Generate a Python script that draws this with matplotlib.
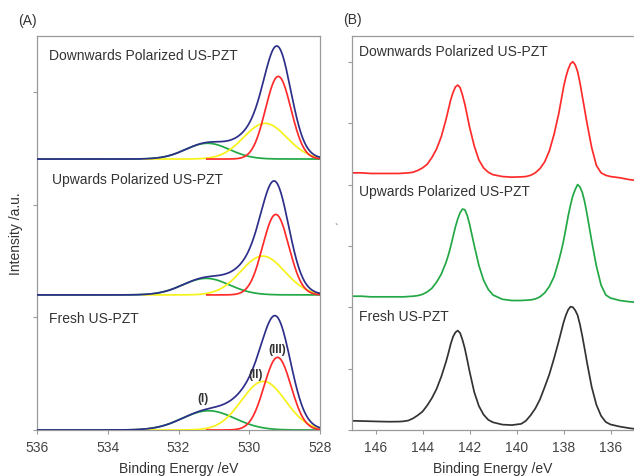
import matplotlib
matplotlib.use("Agg")
import matplotlib.pyplot as plt
import numpy as np

plt.rcParams['font.family'] = ['Liberation Sans', 'DejaVu Sans']

# ---------------- Panel A: O 1s fitted components ----------------
o1s_labels = ["Downwards Polarized US-PZT", "Upwards Polarized US-PZT", "Fresh US-PZT"]
o1s_offsets = [2.407, 1.20, 0.0]
# component (I)  - green
comp1_center = [531.18, 531.22, 531.15]
comp1_height = [0.140, 0.147, 0.171]
comp1_sigma = [0.62, 0.66, 0.74]
# component (II) - yellow
comp2_center = [529.55, 529.62, 529.60]
comp2_height = [0.317, 0.345, 0.432]
comp2_sigma = [0.61, 0.62, 0.62]
# component (III) - red
comp3_center = [529.18, 529.25, 529.20]
comp3_height = [0.734, 0.715, 0.645]
comp3_sigma = [0.36, 0.37, 0.38]
comp2_start = 533.0
comp3_start = 531.2
peak_names = ["(I)", "(II)", "(III)"]
peak_name_x = [531.30, 529.81, 529.20]
peak_name_y = [0.28, 0.50, 0.72]

# ---------------- Panel B: Pb 4f spectra ----------------
energy_b = [147.0, 146.6, 146.2, 145.8, 145.4, 145.0, 144.8, 144.6, 144.4, 144.2,
            144.0, 143.8, 143.6, 143.4, 143.2, 143.0, 142.9, 142.8, 142.7, 142.6,
            142.5, 142.4, 142.3, 142.2, 142.1, 142.0, 141.8, 141.6, 141.4, 141.2,
            141.0, 140.6, 140.2, 139.8, 139.6, 139.4, 139.2, 139.0, 138.8, 138.6,
            138.4, 138.2, 138.1, 138.0, 137.9, 137.8, 137.7, 137.6, 137.5, 137.4,
            137.3, 137.2, 137.1, 137.0, 136.8, 136.6, 136.4, 136.2, 136.0, 135.6,
            135.2, 135.0]
pb_down = [4.19, 4.19, 4.18, 4.18, 4.18, 4.18, 4.185, 4.19, 4.20, 4.23,
           4.27, 4.33, 4.44, 4.58, 4.78, 5.06, 5.22, 5.38, 5.50, 5.59,
           5.62, 5.58, 5.46, 5.31, 5.13, 4.94, 4.63, 4.40, 4.27, 4.20,
           4.16, 4.13, 4.12, 4.125, 4.13, 4.15, 4.19, 4.26, 4.37, 4.55,
           4.82, 5.16, 5.37, 5.58, 5.75, 5.88, 5.97, 6.00, 5.95, 5.84,
           5.66, 5.44, 5.22, 5.00, 4.60, 4.31, 4.19, 4.15, 4.13, 4.11,
           4.08, 4.07]
pb_up = [2.18, 2.18, 2.17, 2.17, 2.17, 2.17, 2.17, 2.175, 2.18, 2.19,
         2.21, 2.25, 2.31, 2.41, 2.54, 2.73, 2.85, 2.99, 3.15, 3.31,
         3.44, 3.54, 3.60, 3.59, 3.50, 3.36, 3.01, 2.68, 2.44, 2.29,
         2.20, 2.13, 2.11, 2.11, 2.115, 2.12, 2.135, 2.17, 2.235, 2.34,
         2.50, 2.76, 2.91, 3.08, 3.28, 3.49, 3.67, 3.82, 3.92, 4.00,
         3.96, 3.87, 3.72, 3.52, 3.08, 2.67, 2.36, 2.20, 2.15, 2.11,
         2.09, 2.085]
pb_fresh = [0.150, 0.146, 0.142, 0.138, 0.135, 0.137, 0.142, 0.155, 0.19, 0.24,
            0.30, 0.40, 0.52, 0.67, 0.87, 1.11, 1.25, 1.40, 1.52, 1.59,
            1.62, 1.58, 1.47, 1.33, 1.15, 0.96, 0.62, 0.39, 0.25, 0.165,
            0.125, 0.088, 0.080, 0.10, 0.15, 0.24, 0.35, 0.50, 0.70, 0.91,
            1.17, 1.45, 1.60, 1.75, 1.87, 1.96, 2.01, 2.00, 1.95, 1.87,
            1.72, 1.53, 1.32, 1.10, 0.70, 0.41, 0.23, 0.13, 0.09, 0.055,
            0.03, 0.02]
pb_labels = ["Downwards Polarized US-PZT", "Upwards Polarized US-PZT", "Fresh US-PZT"]
pb_label_y = [6.18, 3.89, 1.85]

# ---------------- styling ----------------
C_BLUE = "#2e2f8a"
C_RED = "#ff2b2b"
C_YEL = "#f7f21a"
C_GRN = "#22a845"
C_BLACK = "#333333"
SPINE = "#9a9a9a"
TXT = "#333333"
LW = 1.25


def gauss(x, c, h, s):
    return h * np.exp(-(x - c) ** 2 / (2.0 * s * s))


def style(ax):
    for sp in ax.spines.values():
        sp.set_color(SPINE)
        sp.set_linewidth(0.9)
    ax.tick_params(direction="out", length=3, width=0.8, color=SPINE,
                   labelsize=10, labelcolor="#444444", pad=4)
    ax.set_yticklabels([])


fig = plt.figure(figsize=(6.34, 4.77), dpi=100)
axA = fig.add_axes([37 / 634, 1 - 431 / 477, 283 / 634, 394 / 477])
axB = fig.add_axes([352 / 634, 1 - 431 / 477, 282 / 634, 394 / 477])

# Panel A
x = np.linspace(528, 536, 1601)
label_pos_A = [(535.66, 3.33), (535.58, 2.23), (535.66, 0.995)]
for i in range(3):
    base = o1s_offsets[i]
    g1 = gauss(x, comp1_center[i], comp1_height[i], comp1_sigma[i])
    g2 = gauss(x, comp2_center[i], comp2_height[i], comp2_sigma[i])
    g3 = gauss(x, comp3_center[i], comp3_height[i], comp3_sigma[i])
    env = g1 + g2 + g3
    axA.plot(x, base + g1, color=C_GRN, lw=LW, zorder=2)
    m2 = x <= comp2_start
    axA.plot(x[m2], base + g2[m2], color=C_YEL, lw=LW, zorder=3)
    m3 = x <= comp3_start
    axA.plot(x[m3], base + g3[m3], color=C_RED, lw=LW, zorder=4)
    axA.plot(x, base + env, color=C_BLUE, lw=LW, zorder=5)
    axA.text(label_pos_A[i][0], label_pos_A[i][1], o1s_labels[i], fontsize=10,
             color=TXT, ha="left", va="center")

for name, px, py in zip(peak_names, peak_name_x, peak_name_y):
    axA.text(px, py, name, fontsize=8.5, fontweight="bold", color=TXT,
             ha="center", va="center", zorder=6)

axA.set_xlim(536, 528)
axA.set_ylim(0, 3.5)
axA.set_xticks([536, 534, 532, 530, 528])
axA.set_yticks([0, 1, 2, 3])
style(axA)
axA.set_xlabel("Binding Energy /eV", fontsize=10, color=TXT, labelpad=5)
axA.set_ylabel("Intensity /a.u.", fontsize=10, color=TXT)
axA.yaxis.set_label_coords(-0.05, 0.5)

# Panel B
axB.plot(energy_b, pb_down, color=C_RED, lw=LW)
axB.plot(energy_b, pb_up, color=C_GRN, lw=LW)
axB.plot(energy_b, pb_fresh, color=C_BLACK, lw=LW)
for lab, ly in zip(pb_labels, pb_label_y):
    axB.text(146.70, ly, lab, fontsize=10, color=TXT, ha="left", va="center")
axB.set_xlim(147, 135)
axB.set_ylim(0, 6.42)
axB.set_xticks([146, 144, 142, 140, 138, 136])
axB.set_yticks([0, 1, 2, 3, 4, 5, 6])
style(axB)
axB.spines["right"].set_visible(False)
axB.set_xlabel("Binding Energy /eV", fontsize=10, color=TXT, labelpad=5)

fig.text(18 / 634, 1 - 21 / 477, "(A)", fontsize=10, color=TXT, ha="left", va="center")
fig.text(343 / 634, 1 - 20 / 477, "(B)", fontsize=10, color=TXT, ha="left", va="center")
fig.text(336 / 634, 1 - 229 / 477, "`", fontsize=8, color="#555555", ha="center", va="center")

fig.savefig("out.png", dpi=100)
